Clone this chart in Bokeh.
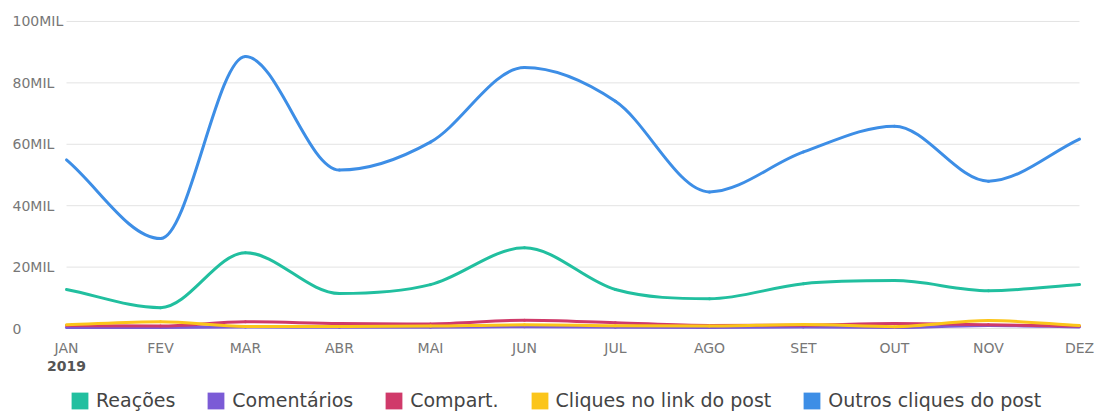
import numpy as np
from bokeh.plotting import figure
from bokeh.layouts import column
from bokeh.models import (FixedTicker, LinearAxis, Legend, LegendItem, Label,
                          ColumnDataSource, Range1d)
from bokeh.embed import file_html
from bokeh.resources import INLINE

# ---------------- data ----------------
months = ["JAN", "FEV", "MAR", "ABR", "MAI", "JUN", "JUL", "AGO", "SET", "OUT", "NOV", "DEZ"]
day_of_year = [0, 31, 59, 90, 120, 151, 181, 212, 243, 273, 304, 334]   # 1st of each month, 2019
year_label = "2019"

reacoes = [12700, 6800, 24700, 11400, 14300, 26300, 12700, 9700, 14600, 15600, 12300, 14300]
comentarios = [300, 300, 500, 400, 400, 600, 400, 300, 500, 300, 1000, 500]
compart = [1000, 800, 2200, 1600, 1500, 2700, 1900, 1000, 1100, 1600, 1200, 800]
cliques_link = [1200, 2200, 700, 700, 800, 1200, 900, 800, 1300, 600, 2600, 1000]
outros_cliques = [54900, 29300, 88600, 51600, 60700, 85000, 74000, 44500, 57500, 65900, 48000, 61700]

series_names = ["Reações", "Comentários", "Compart.", "Cliques no link do post", "Outros cliques do post"]
series_values = [reacoes, comentarios, compart, cliques_link, outros_cliques]
series_colors = ["#21bf9f", "#7b5bd6", "#d03a6a", "#fbc51a", "#3d8ee6"]

y_ticks = [0, 20000, 40000, 60000, 80000, 100000]
y_tick_labels = ["0", "20MIL", "40MIL", "60MIL", "80MIL", "100MIL"]

FONT = "DejaVu Sans"

# layout in pixels
W = 1099
LEFT_PAD = 66        # space for the y labels before January
RIGHT_PAD = 20
span = day_of_year[-1] - day_of_year[0]
px_per_day = (W - LEFT_PAD - RIGHT_PAD) / span


def smooth_segments(xs, ys):
    """Cubic bezier segments through the points; flat tangents at local extremes."""
    xs = np.asarray(xs, float)
    ys = np.asarray(ys, float)
    n = len(xs)
    m = np.zeros(n)
    for i in range(n):
        if i == 0:
            m[i] = (ys[1] - ys[0]) / (xs[1] - xs[0])
        elif i == n - 1:
            m[i] = (ys[-1] - ys[-2]) / (xs[-1] - xs[-2])
        else:
            d0 = ys[i] - ys[i - 1]
            d1 = ys[i + 1] - ys[i]
            if d0 * d1 <= 0:
                m[i] = 0.0
            else:
                m[i] = (ys[i + 1] - ys[i - 1]) / (xs[i + 1] - xs[i - 1])
    dx = np.diff(xs)
    return dict(x0=xs[:-1], y0=ys[:-1], x1=xs[1:], y1=ys[1:],
                cx0=xs[:-1] + dx / 3, cy0=ys[:-1] + m[:-1] * dx / 3,
                cx1=xs[1:] - dx / 3, cy1=ys[1:] - m[1:] * dx / 3)


p = figure(width=W, height=373, output_backend="svg", toolbar_location=None,
           x_range=Range1d(day_of_year[0] - LEFT_PAD / px_per_day,
                           day_of_year[-1] + RIGHT_PAD / px_per_day),
           y_range=Range1d(-2270, 106170), y_axis_location=None,
           min_border_left=0, min_border_right=0, min_border_top=2, min_border_bottom=0)
p.outline_line_color = None
p.background_fill_color = "white"
p.border_fill_color = "white"
p.xgrid.visible = False
p.ygrid.visible = False

# horizontal grid lines from January to December
p.segment(x0=[day_of_year[0]] * len(y_ticks), x1=[day_of_year[-1]] * len(y_ticks),
          y0=y_ticks, y1=y_ticks, line_color="#e3e3e3", line_width=1)

# x axis (months)
xa = p.xaxis[0]
xa.ticker = FixedTicker(ticks=day_of_year)
xa.major_label_overrides = {d: m for d, m in zip(day_of_year, months)}
xa.axis_line_color = None
xa.major_tick_line_color = None
xa.minor_tick_line_color = None
xa.major_tick_out = 0
xa.major_tick_in = 0
xa.minor_tick_out = 0
xa.minor_tick_in = 0
xa.major_label_text_font = FONT
xa.major_label_text_font_size = "14px"
xa.major_label_text_color = "#777777"
xa.major_label_standoff = 4

# second axis for the year
xa2 = LinearAxis(ticker=FixedTicker(ticks=[day_of_year[0]]),
                 major_label_overrides={day_of_year[0]: year_label})
xa2.axis_line_color = None
xa2.major_tick_line_color = None
xa2.minor_tick_line_color = None
xa2.major_tick_out = 0
xa2.major_tick_in = 0
xa2.minor_tick_out = 0
xa2.minor_tick_in = 0
xa2.major_label_text_font = FONT
xa2.major_label_text_font_size = "14px"
xa2.major_label_text_font_style = "bold"
xa2.major_label_text_color = "#555555"
xa2.major_label_standoff = 2
p.add_layout(xa2, "below")

# y labels (left aligned)
for v, t in zip(y_ticks, y_tick_labels):
    p.add_layout(Label(x=12, y=v, x_units="screen", y_units="data", text=t,
                       text_font=FONT, text_font_size="14px", text_color="#777777",
                       text_align="left", text_baseline="middle"))

# lines
for name, vals, col in zip(series_names, series_values, series_colors):
    src = ColumnDataSource(smooth_segments(day_of_year, vals))
    p.bezier(x0="x0", y0="y0", x1="x1", y1="y1", cx0="cx0", cy0="cy0", cx1="cx1", cy1="cy1",
             source=src, line_color=col, line_width=3, line_cap="round")

# legend strip
p2 = figure(width=W, height=38, output_backend="svg", toolbar_location=None,
            x_range=Range1d(0, 1), y_range=Range1d(0, 1),
            x_axis_location=None, y_axis_location=None, min_border=0)
p2.outline_line_color = None
p2.grid.visible = False
items = []
for name, vals, col in zip(series_names, series_values, series_colors):
    proxy = p2.rect(x=[day_of_year[0]], y=[vals[0]], width=0, height=0,
                    fill_color=col, line_color=None)
    items.append(LegendItem(label=name, renderers=[proxy]))

legend = Legend(items=items, orientation="horizontal", location=(69, 0),
                label_text_font=FONT, label_text_font_size="19px", label_text_color="#444444",
                glyph_width=21, glyph_height=21, label_standoff=6, spacing=30,
                padding=0, margin=0, border_line_color=None, background_fill_alpha=0)
p2.add_layout(legend)

layout = column(p, p2, spacing=0)
open("out.html", "w").write(file_html(layout, INLINE))
